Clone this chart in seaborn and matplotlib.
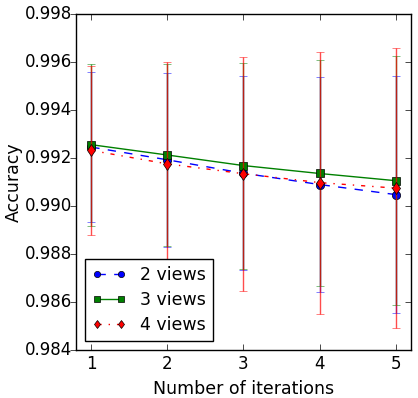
import numpy as np
import matplotlib
matplotlib.use('Agg')
import matplotlib.pyplot as plt
import matplotlib.lines as mlines
import seaborn as sns
from matplotlib.ticker import FormatStrFormatter

# data
iterations = [1, 2, 3, 4, 5]
acc_2views = [0.99245, 0.99192, 0.99136, 0.99089, 0.99047]
err_2views = [0.00313, 0.00362, 0.00404, 0.00449, 0.00493]
acc_3views = [0.99255, 0.99212, 0.99168, 0.99135, 0.99105]
err_3views = [0.00337, 0.00380, 0.00429, 0.00471, 0.00519]
acc_4views = [0.99231, 0.99175, 0.99134, 0.99097, 0.99074]
err_4views = [0.00352, 0.00425, 0.00488, 0.00546, 0.00584]
labels = ['2 views', '3 views', '4 views']

plt.style.use('classic')
fig = plt.figure(figsize=(4.18, 3.98), dpi=100)
ax = fig.add_axes([0.182, 0.121, 0.801, 0.844])

series = [
    (acc_2views, err_2views, 'b', 'o', '--'),
    (acc_3views, err_3views, 'g', 's', '-'),
    (acc_4views, err_4views, 'r', 'd', '-.'),
]

for (acc, err, col, mk, ls), lab in zip(series, labels):
    ax.errorbar(iterations, acc, yerr=err, fmt='none', ecolor=col,
                alpha=0.7, capsize=3, elinewidth=1)
    sns.lineplot(x=iterations, y=acc, ax=ax, color=col, marker=mk,
                 linestyle=ls, markersize=6, markeredgecolor='k',
                 markeredgewidth=0.5, label=lab, linewidth=1)

ax.set_xlim(0.8, 5.2)
ax.set_ylim(0.984, 0.998)
ax.set_xticks(iterations)
ax.yaxis.set_major_formatter(FormatStrFormatter('%.3f'))
ax.set_xlabel('Number of iterations', fontsize=12.5)
ax.set_ylabel('Accuracy', fontsize=12.5, labelpad=1)
ax.tick_params(labelsize=12)
ax.tick_params(axis='y', pad=3)
ax.legend(loc='lower left', numpoints=2, fontsize=12.5, frameon=True,
          markerscale=0.75, labelspacing=0.4)

# left ticks point outward, the rest stay inside
for t in ax.yaxis.get_major_ticks():
    t.tick1line.set_marker(mlines.TICKLEFT)

fig.savefig('out.png', dpi=100)
